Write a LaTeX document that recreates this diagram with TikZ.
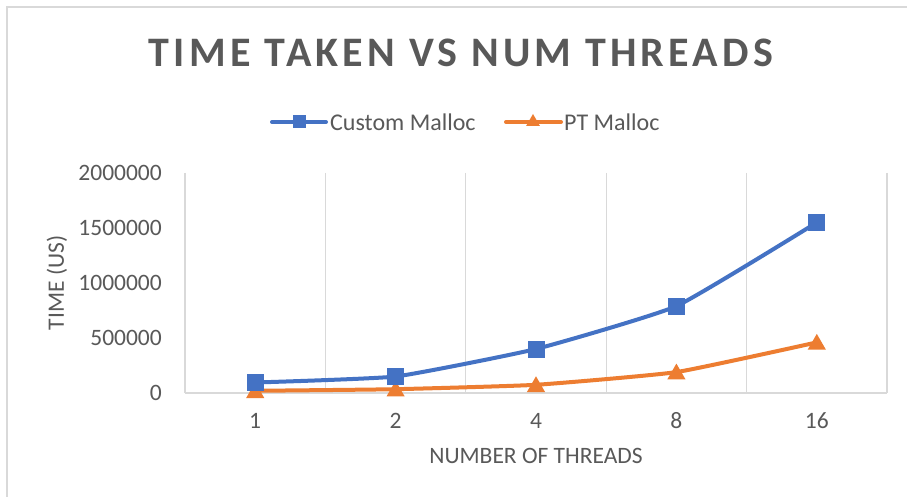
\documentclass[tikz,border=0pt]{standalone}
\usepackage{fontspec}
\setmainfont{Carlito}
\newfontfamily\titlefont[LetterSpace=10]{Carlito}
\usetikzlibrary{shapes.geometric}
\definecolor{cblue}{HTML}{4472C4}
\definecolor{corange}{HTML}{ED7D31}
\definecolor{ctext}{HTML}{595959}
\definecolor{cgrid}{HTML}{D9D9D9}
\tikzset{
  grid line/.style={draw=cgrid, line width=1.2pt},
  tick label/.style={text=ctext, font=\fontsize{23.5}{26}\selectfont, inner sep=0pt},
  axis title/.style={text=ctext, font=\fontsize{23.5}{26}\selectfont, inner sep=0pt},
  custom line/.style={draw=cblue, line width=4pt, line join=round, line cap=round},
  pt line/.style={draw=corange, line width=4pt, line join=round, line cap=round},
  sqmark/.style={fill=cblue, minimum size=17pt, inner sep=0pt},
  trimark/.style={regular polygon, regular polygon sides=3, fill=corange, minimum size=21pt, inner sep=0pt},
}
\begin{document}
\begin{tikzpicture}[x=1pt, y=-1pt]
\useasboundingbox (0,0) rectangle (907,497);
\fill[white] (0,0) rectangle (907,497);
% chart frame
\draw[cgrid, line width=1.5pt] (7,497) -- (7,7) -- (907,7);

% title
\node[text=ctext, font=\titlefont\bfseries\fontsize{42}{48}\selectfont, inner sep=0pt] (title) at (461,53) {TIME TAKEN VS NUM THREADS};

% legend
\coordinate (lA1) at (272,122); \coordinate (lA2) at (326,122);
\draw[custom line] (lA1) -- (lA2);
\node[fill=cblue, minimum size=13pt, inner sep=0pt] (lAm) at (299,122) {};
\node[anchor=west, text=ctext, font=\fontsize{24}{27}\selectfont, inner sep=0pt] (lAt) at (330,122) {Custom Malloc};
\coordinate (lB1) at (506,122); \coordinate (lB2) at (561,122);
\draw[pt line] (lB1) -- (lB2);
\node[regular polygon, regular polygon sides=3, fill=corange, minimum size=16pt, inner sep=0pt] (lBm) at (533,122) {};
\node[anchor=west, text=ctext, font=\fontsize{24}{27}\selectfont, inner sep=0pt] (lBt) at (564,122) {PT Malloc};

% vertical gridlines at category boundaries
\foreach \gx in {185,325.4,465.8,606.2,746.6,887} {
  \draw[grid line] (\gx,173) -- (\gx,393);
}
% horizontal axis
\draw[grid line] (185,393) -- (887,393);

% y tick labels
\foreach \val/\gy in {0/393, 500000/338, 1000000/283, 1500000/228, 2000000/173} {
  \node[tick label, anchor=east] at (162,\gy) {\val};
}
% x tick labels
\foreach \lab/\gx in {1/255.2, 2/395.6, 4/536, 8/676.4, 16/816.8} {
  \node[tick label] at (\gx,421) {\lab};
}

% axis titles
\node[axis title, rotate=90] (ytitle) at (57,283) {TIME (US)};
\node[axis title] (xtitle) at (536,456) {NUMBER OF THREADS};

% PT Malloc series
\coordinate (p1) at (255.2,390.8);
\coordinate (p2) at (395.6,389.2);
\coordinate (p3) at (536,384.8);
\coordinate (p4) at (676.4,372.1);
\coordinate (p5) at (816.8,342.4);
\draw[pt line] plot[smooth, tension=0.25] coordinates {(p1) (p2) (p3) (p4) (p5)};
\foreach \p in {p1,p2,p3,p4,p5} {
  \node[trimark, yshift=-2pt] at (\p) {};
}

% Custom Malloc series
\coordinate (c1) at (255.2,382.5);
\coordinate (c2) at (395.6,376.5);
\coordinate (c3) at (536,349);
\coordinate (c4) at (676.4,306.1);
\coordinate (c5) at (816.8,222.5);
\draw[custom line] plot[smooth, tension=0.25] coordinates {(c1) (c2) (c3) (c4) (c5)};
\foreach \c in {c1,c2,c3,c4,c5} {
  \node[sqmark] at (\c) {};
}
\end{tikzpicture}
\end{document}
